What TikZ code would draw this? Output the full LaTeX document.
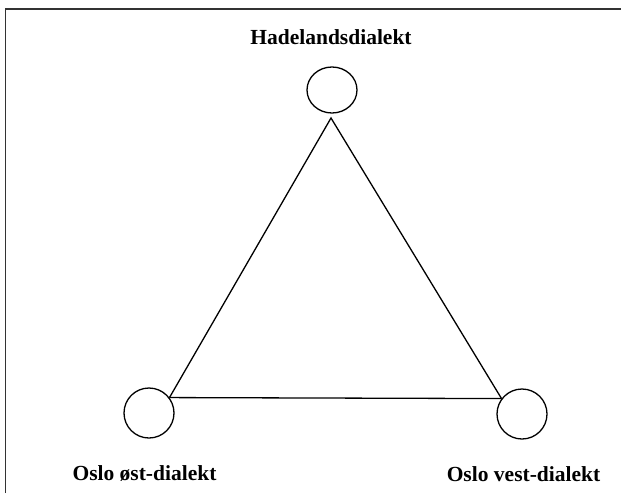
\documentclass[tikz,border=0pt]{standalone}
\usepackage{fontspec}
\usetikzlibrary{shapes.geometric}
\setmainfont{Liberation Serif}
\begin{document}
\begin{tikzpicture}[x=1pt,y=-1pt,
  dot/.style={draw,circle,minimum size=50pt,inner sep=0pt,line width=1.3pt},
  lbl/.style={anchor=base,inner sep=0pt,font=\fontsize{21.5}{24}\selectfont\bfseries},
  edge/.style={line width=1.3pt},
  frame/.style={line width=1.6pt,draw=black!80}]
\useasboundingbox (0,0) rectangle (621,493);
\coordinate (fl) at (5.5,493);
\coordinate (fc) at (5.5,9);
\coordinate (fr) at (621,9);
\draw[frame] (fl) -- (fc) -- (fr);
\node[draw,ellipse,minimum width=50pt,minimum height=46pt,inner sep=0pt,line width=1.3pt] (T) at (332,90) {};
\node[dot] (L) at (149,413) {};
\node[dot] (R) at (522,414) {};
\coordinate (apex) at (331,118);
\draw[edge] (L.37) -- (apex) -- (R.143);
\draw[edge] (L.37) -- (R.143);
\node[lbl] (tT) at (331,44) {Hadelandsdialekt};
\node[lbl] (tL) at (144.5,480) {Oslo øst-dialekt};
\node[lbl] (tR) at (523.5,481) {Oslo vest-dialekt};
\end{tikzpicture}
\end{document}
